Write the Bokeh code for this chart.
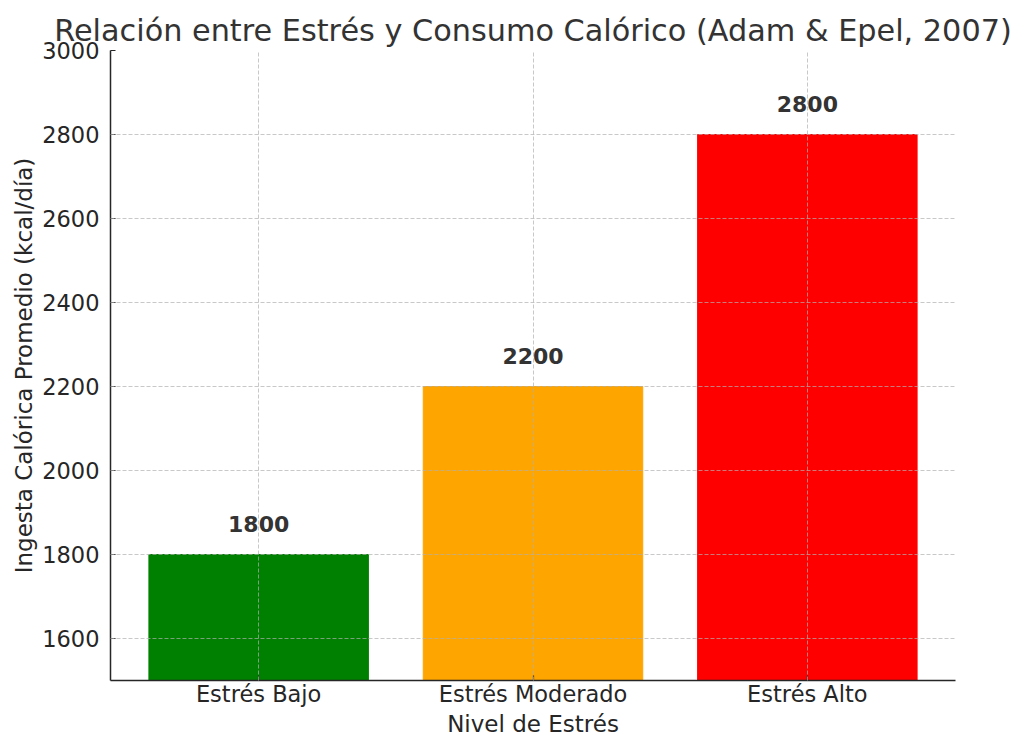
import numpy as np
from bokeh.plotting import figure, ColumnDataSource
from bokeh.models import Range1d, FactorRange, SingleIntervalTicker
from bokeh.core.properties import value
from bokeh.embed import file_html
from bokeh.resources import INLINE

# Datos (Adam & Epel, 2007)
niveles = ["Estrés Bajo", "Estrés Moderado", "Estrés Alto"]
calorias = [1800, 2200, 2800]
colores = ["#008000", "#FFA500", "#FF0000"]

FONT = "DejaVu Sans"

source = ColumnDataSource(dict(
    nivel=niveles,
    kcal=calorias,
    color=colores,
    label=[str(v) for v in calorias],
))

p = figure(
    x_range=FactorRange(factors=niveles, range_padding=0.04, range_padding_units="absolute"),
    y_range=Range1d(1500, 3000),
    width=1016, height=745,
    min_border_left=110, min_border_right=61,
    min_border_top=50, min_border_bottom=65,
    output_backend="svg", toolbar_location=None,
    title="Relación entre Estrés y Consumo Calórico (Adam & Epel, 2007)",
)

p.vbar(x="nivel", top="kcal", bottom=0, width=0.8, color="color", source=source)

# etiquetas encima de las barras
p.text(x="nivel", y="kcal", text="label", source=source, y_offset=-31,
       text_align="center", text_baseline="alphabetic",
       text_font=value(FONT), text_font_style="bold", text_font_size="22px",
       text_color="#333333")

# título
p.title.align = "center"
p.title.text_font = FONT
p.title.text_font_size = "30.3px"
p.title.text_font_style = "normal"
p.title.text_color = "#333333"
p.title.offset = 0
p.title.standoff = 6

# ejes
p.outline_line_color = None
p.yaxis.ticker = SingleIntervalTicker(interval=200)
p.xaxis.axis_label = "Nivel de Estrés"
p.yaxis.axis_label = "Ingesta Calórica Promedio (kcal/día)"
for ax in (p.xaxis, p.yaxis):
    ax.axis_line_color = "#262626"
    ax.axis_line_width = 1.5
    ax.major_tick_line_color = "#262626"
    ax.major_tick_line_width = 1.2
    ax.major_tick_in = 5
    ax.major_tick_out = 0
    ax.minor_tick_line_color = None
    ax.major_label_text_font = FONT
    ax.major_label_text_font_size = "22.5px"
    ax.major_label_text_color = "#262626"
    ax.axis_label_text_font = FONT
    ax.axis_label_text_font_size = "23px"
    ax.axis_label_text_font_style = "normal"
    ax.axis_label_text_color = "#262626"
p.yaxis.major_label_standoff = 7
p.xaxis.major_label_standoff = 0
p.yaxis.axis_label_standoff = 2
p.xaxis.axis_label_standoff = 1

# cuadrícula discontinua sobre las barras
p.grid.grid_line_color = "#b0b0b0"
p.grid.grid_line_alpha = 0.7
p.grid.grid_line_dash = "4 2"
p.grid.grid_line_width = 1
p.grid.level = "overlay"

open("out.html", "w").write(file_html(p, INLINE))
